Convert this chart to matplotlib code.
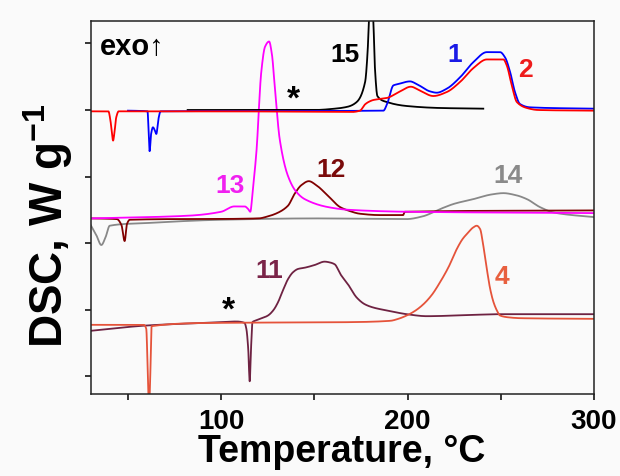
import matplotlib
matplotlib.use("Agg")
import matplotlib.pyplot as plt
import numpy as np

plt.rcParams['font.family'] = ['Liberation Sans', 'DejaVu Sans']
plt.rcParams['font.weight'] = 'bold'
plt.rcParams['mathtext.fontset'] = 'custom'
plt.rcParams['mathtext.rm'] = 'Liberation Sans:bold'
plt.rcParams['mathtext.bf'] = 'Liberation Sans:bold'

# ---- data (temperature in degC, DSC signal in offset W/g units) ----
t2 = [30, 39.5, 40.5, 41.5, 42, 42.7, 43.7, 45, 100, 170, 174.5, 177, 179, 181.6, 188.8, 196, 201.7,
      206.7, 213.8, 221, 228.1, 235.3, 242.5, 251.4, 253.2, 255.9, 258.6, 264, 270, 300]
y2 = [3.98, 3.98, 3.86, 3.62, 3.54, 3.65, 3.89, 3.98, 3.98, 3.97, 3.99, 4.08, 4.12, 4.15, 4.18, 4.28, 4.35,
      4.29, 4.21, 4.27, 4.42, 4.63, 4.76, 4.76, 4.67, 4.37, 4.12, 4.03, 4.00, 3.99]

t1 = [50, 60.5, 61.0, 61.6, 62.4, 63.4, 64.3, 65.2, 66.3, 67.5, 187, 189, 192.4, 195, 201.3, 204.9, 212,
      215.6, 221, 228.1, 235.3, 242.5, 249.6, 252.3, 255, 257.6, 260.3, 265.7, 300]
y1 = [3.99, 3.98, 3.71, 3.38, 3.64, 3.74, 3.70, 3.64, 3.86, 3.98, 3.99, 4.09, 4.37, 4.39, 4.43, 4.39, 4.28,
      4.26, 4.32, 4.49, 4.72, 4.87, 4.87, 4.79, 4.57, 4.27, 4.09, 4.04, 4.02]

t15 = [82, 150, 161, 168, 172.7, 177.2, 178.5, 179.3, 180.4, 181.6, 182.5, 183.8, 188.8, 199.5, 217.4, 240.6]
y15 = [4.00, 4.00, 4.02, 4.05, 4.12, 4.42, 4.85, 5.37, 6.00, 5.37, 4.62, 4.21, 4.12, 4.06, 4.03, 4.02]

t13 = [30, 82, 100, 107, 112.6, 114.5, 115.6, 117, 118.9, 121.5, 123.5, 125.7, 127.2, 128.7, 131.4,
       135.8, 140, 144.8, 157.3, 168, 200, 300]
y13 = [2.37, 2.41, 2.47, 2.55, 2.55, 2.51, 2.47, 2.81, 3.37, 4.57, 4.95, 5.03, 4.84, 4.37, 3.56,
       3.01, 2.78, 2.66, 2.54, 2.50, 2.47, 2.45]

t12 = [30, 44, 46.5, 48.2, 49.5, 51, 120, 125, 130, 135.8, 139.4, 143, 147, 151, 157.3, 163.8, 168,
       174.5, 185, 197.6, 198.5, 300]
y12 = [2.37, 2.36, 2.27, 2.03, 2.29, 2.35, 2.37, 2.40, 2.45, 2.56, 2.74, 2.87, 2.93, 2.87, 2.71, 2.54, 2.49,
       2.44, 2.42, 2.42, 2.47, 2.49]

t14 = [30, 33, 35.7, 38, 40.2, 60, 100, 150, 199.5, 208, 217.4, 225, 235.3, 245, 251.4, 258, 264, 271,
       278.2, 285, 300]
y14 = [2.27, 2.12, 1.97, 2.09, 2.26, 2.30, 2.35, 2.37, 2.36, 2.40, 2.51, 2.59, 2.66, 2.73, 2.75, 2.72, 2.66, 2.54,
       2.46, 2.43, 2.39]

t11 = [30, 60, 100, 108, 112.5, 113.5, 114.5, 115.3, 116, 116.8, 118, 121, 125.1, 128, 130.5, 133, 135.9,
       138.5, 141.2, 145, 150.2, 155.5, 158, 160.9, 164, 168, 172.7, 177, 181.6, 190, 199.5, 210.3,
       235.3, 249.6, 300]
y11 = [0.68, 0.76, 0.81, 0.82, 0.80, 0.71, 0.41, -0.08, 0.41, 0.81, 0.83, 0.86, 0.91, 0.99, 1.11, 1.28, 1.46,
       1.56, 1.61, 1.63, 1.67, 1.72, 1.71, 1.68, 1.53, 1.38, 1.18, 1.08, 1.03, 0.98, 0.93, 0.90,
       0.92, 0.93, 0.93]

t4 = [30, 58.5, 59.8, 60.7, 61.3, 61.9, 62.7, 100, 168, 190.6, 195, 199.5, 204, 208.5, 213, 217.4, 222,
      226.4, 229.5, 232.6, 235, 237.1, 238.9, 240.5, 242.5, 244.3, 246.1, 248, 249.6, 255, 260.4, 300]
y4 = [0.77, 0.77, 0.71, -0.05, -0.50, -0.05, 0.75, 0.80, 0.81, 0.83, 0.86, 0.91, 0.98, 1.08, 1.22, 1.41, 1.64,
      1.91, 2.06, 2.16, 2.23, 2.26, 2.21, 1.98, 1.61, 1.31, 1.11, 0.98, 0.91, 0.88, 0.87, 0.86]

x_major = [100, 200, 300]
x_minor = [50, 150, 250]
y_ticks = [0, 1, 2, 3, 4, 5]

labels = ["15", "1", "2", "13", "12", "14", "11", "4"]
label_t = [166.4, 225.4, 263.3, 105.0, 159.1, 253.6, 126.0, 250.7]
label_y = [4.84, 4.84, 4.61, 2.87, 3.12, 3.03, 1.60, 1.51]
label_c = ["#000000", "#1a1ae6", "#ee1c1c", "#f020f0", "#7a0a0a", "#8a8a8a", "#7a2448", "#e8603f"]

star_t = [138.8, 103.7]
star_y = [4.17, 0.99]


def smooth(x, y, n=4000):
    """Monotone cubic (PCHIP) rendering through the read points."""
    x = np.asarray(x, float)
    y = np.asarray(y, float)
    h = np.diff(x)
    d = np.diff(y) / h
    m = np.zeros_like(y)
    m[0], m[-1] = d[0], d[-1]
    for k in range(1, len(x) - 1):
        if d[k - 1] * d[k] > 0:
            w1 = 2 * h[k] + h[k - 1]
            w2 = h[k] + 2 * h[k - 1]
            m[k] = (w1 + w2) / (w1 / d[k - 1] + w2 / d[k])
    xs = np.linspace(x[0], x[-1], n)
    i = np.clip(np.searchsorted(x, xs) - 1, 0, len(x) - 2)
    t = (xs - x[i]) / h[i]
    h00 = 2 * t**3 - 3 * t**2 + 1
    h10 = t**3 - 2 * t**2 + t
    h01 = -2 * t**3 + 3 * t**2
    h11 = t**3 - t**2
    ys = h00 * y[i] + h10 * h[i] * m[i] + h01 * y[i + 1] + h11 * h[i] * m[i + 1]
    return xs, ys


# ---- figure ----
bg = "#fafafa"
fig = plt.figure(figsize=(6.2, 4.77), dpi=100, facecolor=bg)
ax = fig.add_axes([90.7 / 620, 1 - 395 / 477, (594 - 90.7) / 620, (395 - 22) / 477])
ax.set_facecolor(bg)

lw = 1.3
series = [(t11, y11, "#6e2242"), (t4, y4, "#e5533a"), (t14, y14, "#888888"),
          (t12, y12, "#800000"), (t13, y13, "#ff00ff"), (t15, y15, "#000000"),
          (t1, y1, "#0000ff"), (t2, y2, "#ff0000")]
for tt, yy, cc in series:
    xs, ys = smooth(tt, yy)
    ax.plot(xs, ys, color=cc, lw=lw)

ax.set_xlim(30, 300)
ax.set_ylim(-0.27, 5.338)
ax.set_xticks(x_major)
ax.set_xticks(x_minor, minor=True)
ax.set_yticks(y_ticks)
ax.set_yticklabels([])
ax.tick_params(axis='both', which='both', direction='out', length=4, width=1.1)
ax.tick_params(axis='x', labelsize=20, pad=6)
for s in ax.spines.values():
    s.set_linewidth(1.1)
    s.set_color("#222222")

for lab, tt, yy, cc in zip(labels, label_t, label_y, label_c):
    ax.text(tt, yy, lab, color=cc, fontsize=19, fontweight='bold', ha='center', va='center')
for tt, yy in zip(star_t, star_y):
    ax.text(tt, yy, "*", color="black", fontsize=24, fontweight='bold', ha='center', va='center')

ax.text(34.8, 4.96, "exo\u2191", fontsize=21, fontweight='bold', ha='left', va='center',
        family=['Liberation Sans', 'DejaVu Sans'])

fig.text(342 / 620, 1 - 462 / 477, "Temperature, \u00b0C", fontsize=27, fontweight='bold',
         ha='center', va='baseline')
fig.text(48 / 620, 1 - 226 / 477, r"DSC, W g$^{-1}$", fontsize=33, fontweight='bold',
         ha='center', va='center', rotation=90)

fig.savefig("out.png", dpi=100, facecolor=bg)
